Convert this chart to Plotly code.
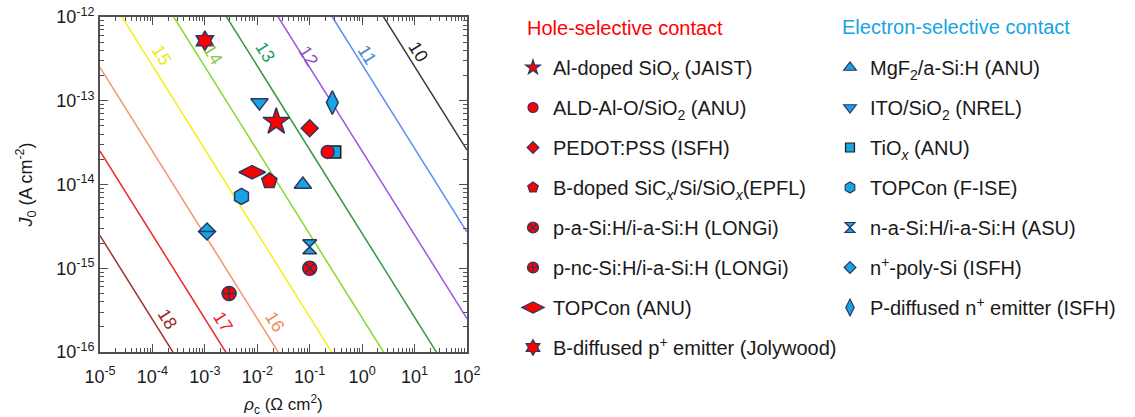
import numpy as np
import plotly.graph_objects as go

# ---- iso-efficiency lines: J0 * rho_c = const for each efficiency (%) ----
eff_labels = ["10", "11", "12", "13", "14", "15", "16", "17", "18"]
eff_products = [2.57e-12, 2.7e-13, 2.5e-14, 2.6e-15, 2.55e-16, 2.63e-17, 2.5e-18, 2.5e-19, 2.45e-20]
eff_colors = ["#3a3a3a", "#5b8cf0", "#9b55e0", "#2f9a45", "#86d92a", "#f4f018", "#f4956a", "#ee2328", "#a0302f"]
# label anchor positions (log10 rho_c, log10 J0)
eff_label_logx = [1.07, 0.10, -1.03, -1.85, -2.84, -3.82, -1.66, -2.65, -3.72]
eff_label_logy = [-12.42, -12.45, -12.47, -12.42, -12.45, -12.45, -15.64, -15.64, -15.61]
eff_label_colors = ["#222222", "#3f86d8", "#8e4fcf", "#25a05a", "#8cc84a", "#f0ea10", "#f08a5a", "#ee2328", "#9a2a2a"]

rho_span = [1e-5, 1e2]

# ---- hole-selective contacts ----
hole_names = [
    "Al-doped SiO<sub><i>x</i></sub> (JAIST)",
    "ALD-Al-O/SiO<sub>2</sub> (ANU)",
    "PEDOT:PSS (ISFH)",
    "B-doped SiC<sub><i>x</i></sub>/Si/SiO<sub><i>x</i></sub>(EPFL)",
    "p-a-Si:H/i-a-Si:H (LONGi)",
    "p-nc-Si:H/i-a-Si:H (LONGi)",
    "TOPCon (ANU)",
    "B-diffused p<sup>+</sup> emitter (Jolywood)",
]
hole_rho = [0.023, 0.22, 0.1, 0.017, 0.1, 0.0029, 0.008, 0.001]
hole_j0 = [5.6e-14, 2.45e-14, 4.7e-14, 1.1e-14, 1.0e-15, 5.0e-16, 1.4e-14, 5.2e-13]
hole_symbols = ["star", "circle", "diamond", "pentagon", "circle-x", "circle-cross", "diamond-wide", "hexagram"]
hole_sizes = [20, 13, 13, 16, 14, 14, 19, 15]
hole_key_sizes = [11, 10, 9, 11, 11, 11, 16, 12]

# ---- electron-selective contacts ----
elec_names = [
    "MgF<sub>2</sub>/a-Si:H (ANU)",
    "ITO/SiO<sub>2</sub> (NREL)",
    "TiO<sub><i>x</i></sub> (ANU)",
    "TOPCon (F-ISE)",
    "n-a-Si:H/i-a-Si:H (ASU)",
    "n<sup>+</sup>-poly-Si (ISFH)",
    "P-diffused n<sup>+</sup> emitter (ISFH)",
]
elec_rho = [0.074, 0.011, 0.3, 0.005, 0.1, 0.0011, 0.27]
elec_j0 = [1.0e-14, 9.5e-14, 2.45e-14, 7.2e-15, 1.8e-15, 2.75e-15, 9.5e-14]
elec_symbols = ["triangle-up", "triangle-down", "square", "hexagon", "hourglass", "diamond", "diamond-tall"]
elec_sizes = [15, 15, 12, 16, 14, 13, 17]
elec_key_sizes = [11, 11, 9, 11, 10, 9, 12]

x_ticks = [1e-5, 1e-4, 1e-3, 1e-2, 1e-1, 1e0, 1e1, 1e2]
x_ticktext = ["10<sup>-5</sup>", "10<sup>-4</sup>", "10<sup>-3</sup>", "10<sup>-2</sup>",
              "10<sup>-1</sup>", "10<sup>0</sup>", "10<sup>1</sup>", "10<sup>2</sup>"]
y_ticks = [1e-16, 1e-15, 1e-14, 1e-13, 1e-12]
y_ticktext = ["10<sup>-16</sup>", "10<sup>-15</sup>", "10<sup>-14</sup>", "10<sup>-13</sup>", "10<sup>-12</sup>"]

RED = "#ff0000"
BLUE = "#18a3e2"
EDGE = "#2b3763"
TXT = "#1a1a1a"
FONT = "Liberation Sans, Arial, sans-serif"

# plot-area geometry in pixels, used to place items given in pixel terms
PL, PR, PT, PB = 100, 467, 17, 352


def px_to_paper(px, py):
    return (px - PL) / (PR - PL), (PB - py) / (PB - PT)


fig = go.Figure()

for lab, k, col in zip(eff_labels, eff_products, eff_colors):
    xs = np.array(rho_span)
    fig.add_trace(go.Scatter(x=xs, y=k / xs, mode="lines", line=dict(color=col, width=1.5),
                             showlegend=False, hoverinfo="skip", name=lab + "%"))


def add_group(names, rhos, j0s, symbols, sizes, key_sizes, fill, legend_id, tag):
    for i, (nm, r, j, sym, sz, ks) in enumerate(zip(names, rhos, j0s, symbols, sizes, key_sizes)):
        edge = "#1a1a1a" if sym == "square" else EDGE
        grp = "%s%d" % (tag, i)
        fig.add_trace(go.Scatter(x=[r], y=[j], mode="markers", name=nm, legend=legend_id,
                                 legendgroup=grp, showlegend=False,
                                 marker=dict(symbol=sym, size=sz, color=fill, line=dict(color=edge, width=1.5))))
        if sym == "diamond" and fill == BLUE:
            fig.add_trace(go.Scatter(x=[r], y=[j], mode="markers", showlegend=False, hoverinfo="skip",
                                     legend=legend_id, legendgroup=grp,
                                     marker=dict(symbol="line-ew", size=sz, line=dict(color=EDGE, width=1.5))))
        # legend key with a smaller symbol
        fig.add_trace(go.Scatter(x=[None], y=[None], mode="markers", name=nm, legend=legend_id,
                                 legendgroup=grp, showlegend=True, hoverinfo="skip",
                                 marker=dict(symbol=sym, size=ks, color=fill, line=dict(color=edge, width=1.2))))


# electron-selective first so the hole markers sit on top where they overlap
add_group(elec_names, elec_rho, elec_j0, elec_symbols, elec_sizes, elec_key_sizes, BLUE, "legend2", "e")
add_group(hole_names, hole_rho, hole_j0, hole_symbols, hole_sizes, hole_key_sizes, RED, "legend", "h")

for lab, lx, ly, col in zip(eff_labels, eff_label_logx, eff_label_logy, eff_label_colors):
    fig.add_annotation(x=lx, y=ly, xref="x", yref="y", text=lab, showarrow=False, textangle=58,
                       font=dict(size=18, color=col, family=FONT))

hx, hy = px_to_paper(525, 28)
ex, ey = px_to_paper(840, 27)
fig.add_annotation(x=hx, y=hy, xref="paper", yref="paper", text="Hole-selective contact",
                   showarrow=False, xanchor="left", yanchor="middle", font=dict(size=20, color=RED, family=FONT))
fig.add_annotation(x=ex, y=ey, xref="paper", yref="paper", text="Electron-selective contact",
                   showarrow=False, xanchor="left", yanchor="middle", font=dict(size=20, color=BLUE, family=FONT))

axis_common = dict(type="log", showline=True, linecolor="#505050", linewidth=1.8, mirror="ticks",
                   ticks="inside", ticklen=8, tickwidth=1.2, tickcolor="#505050", showgrid=False,
                   zeroline=False, tickfont=dict(size=18, color=TXT, family=FONT), automargin=False)
minor_common = dict(ticks="inside", ticklen=4, tickwidth=1, tickcolor="#505050", dtick="D1", showgrid=False)

fig.update_xaxes(range=[-5, 2], tickmode="array", tickvals=x_ticks, ticktext=x_ticktext,
                 minor=minor_common, ticklabelstandoff=7,
                 title=dict(text="<i>ρ</i><sub>c</sub> (Ω cm<sup>2</sup>)", font=dict(size=17, color=TXT, family=FONT),
                            standoff=16),
                 **axis_common)
fig.update_yaxes(range=[-16, -12], tickmode="array", tickvals=y_ticks, ticktext=y_ticktext,
                 minor=minor_common,
                 title=dict(text="<i>J</i><sub>0</sub> (A cm<sup>-2</sup>)", font=dict(size=18, color=TXT, family=FONT),
                            standoff=19),
                 **axis_common)

l1x, l1y = px_to_paper(513, 48)
l2x, l2y = px_to_paper(830, 48)
legend_common = dict(xanchor="left", yanchor="top",
                     font=dict(size=20, color=TXT, family=FONT), itemsizing="trace",
                     tracegroupgap=11, bgcolor="rgba(0,0,0,0)", borderwidth=0, traceorder="grouped")
fig.update_layout(
    width=1135, height=417,
    margin=dict(l=PL, r=1135 - PR, t=PT, b=417 - PB, autoexpand=False),
    paper_bgcolor="white", plot_bgcolor="white",
    font=dict(family=FONT),
    legend=dict(x=l1x, y=l1y, **legend_common),
    legend2=dict(x=l2x, y=l2y, **legend_common),
)

fig.write_html("out.html")
